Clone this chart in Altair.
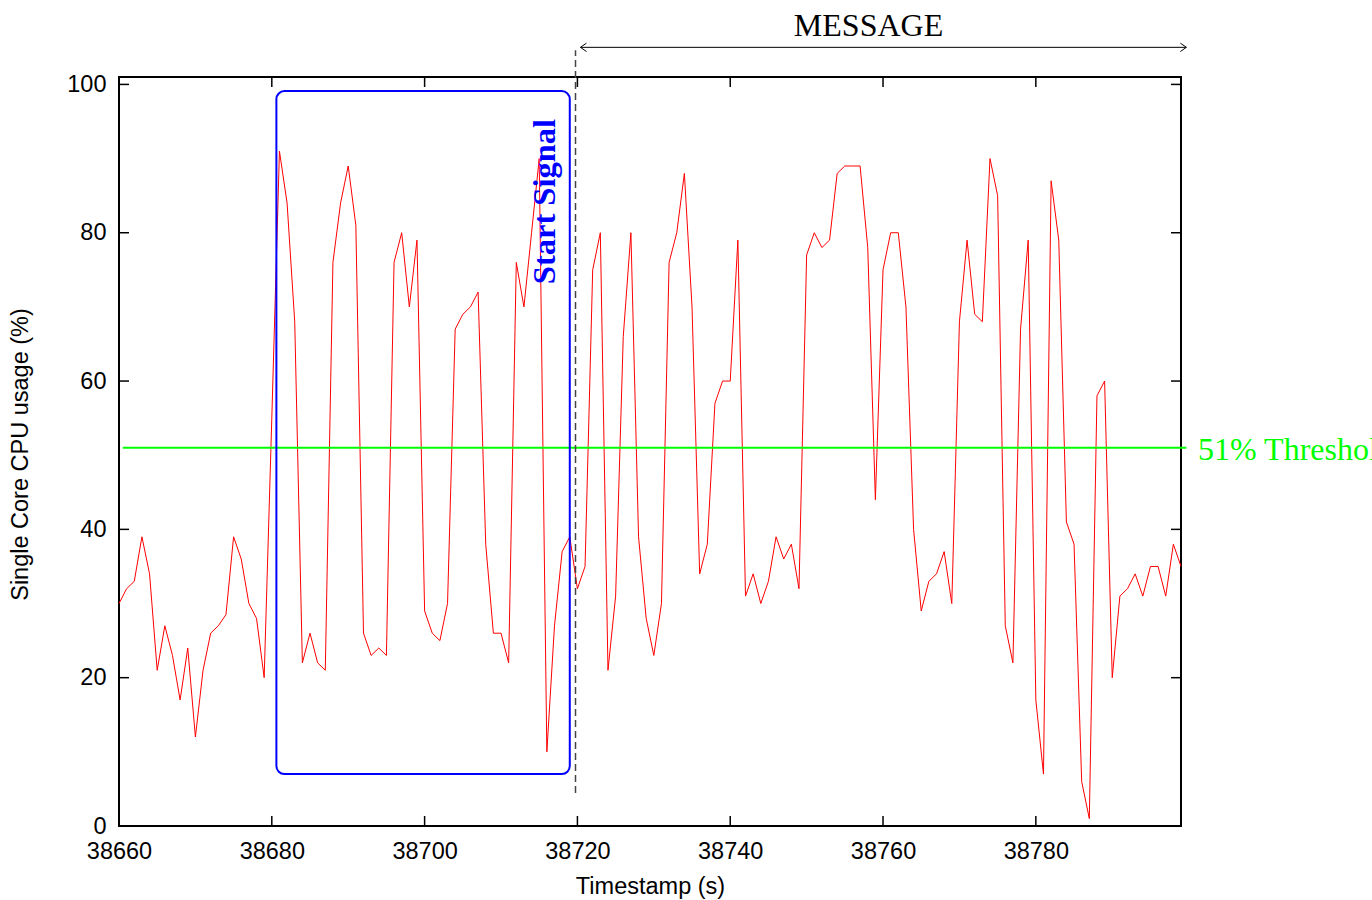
import altair as alt
import pandas as pd

# CPU usage sampled once per second
t_start = 38660
cpu = [
    30, 32, 33, 39, 34, 21, 27, 23, 17, 24,
    12, 21, 26, 27, 28.5, 39, 36, 30, 28, 20,
    55, 91, 84, 68, 22, 26, 22, 21, 76, 84,
    89, 81, 26, 23, 24, 23, 76, 80, 70, 79,
    29, 26, 25, 30, 67, 69, 70, 72, 38, 26,
    26, 22, 76, 70, 80, 90, 10, 27, 37, 39,
    32, 35, 75, 80, 21, 31, 66, 80, 39, 28,
    23, 30, 76, 80, 88, 70, 34, 38, 57, 60,
    60, 79, 31, 34, 30, 33, 39, 36, 38, 32,
    77, 80, 78, 79, 88, 89, 89, 89, 78, 44,
    75, 80, 80, 70, 40, 29, 33, 34, 37, 30,
    68, 79, 69, 68, 90, 85, 27, 22, 67, 79,
    17, 7, 87, 79, 41, 38, 6, 1, 58, 60,
    20, 31, 32, 34, 31, 35, 35, 31, 38, 35,
]
timestamps = [t_start + i for i in range(len(cpu))]

x_ticks = [38660, 38680, 38700, 38720, 38740, 38760, 38780]
y_ticks = [0, 20, 40, 60, 80, 100]

threshold = 51
threshold_text = "51% Threshold"

# start-signal window and message marker
box_t = [38680.6, 38719.0]
box_cpu = [7.0, 99.1]
signal_t = 38719.75
signal_span = [4.45, 104.6]
msg_t = [38720.4, 38799.7]
msg_cpu = 105.0

W, H = 1062, 749
X_DOM = [38660, 38799]
Y_DOM = [0, 101]

SANS = "Liberation Sans"
SERIF = "Liberation Serif"
LABEL_FS = 23.5
TITLE_FS = 23.5


def xe(field="t"):
    return alt.X(
        f"{field}:Q",
        title="Timestamp (s)",
        scale=alt.Scale(domain=X_DOM, nice=False, zero=False),
        axis=alt.Axis(
            values=x_ticks, format="d", domain=False, ticks=False, grid=False,
            labelFlush=False, labelPadding=13, labelFontSize=LABEL_FS,
            labelFont=SANS, labelColor="black",
            titleFontSize=TITLE_FS, titleFont=SANS, titleFontWeight="normal",
            titleColor="black", titleY=60, titleBaseline="middle",
        ),
    )


def ye(field="cpu"):
    return alt.Y(
        f"{field}:Q",
        title="Single Core CPU usage (%)",
        scale=alt.Scale(domain=Y_DOM, nice=False, zero=True),
        axis=alt.Axis(
            values=y_ticks, domain=False, ticks=False, grid=False,
            labelFlush=False, labelPadding=13, labelFontSize=LABEL_FS,
            labelFont=SANS, labelColor="black",
            titleFontSize=TITLE_FS, titleFont=SANS, titleFontWeight="normal",
            titleColor="black", titleX=-99, titleY=377, titleBaseline="middle",
            titleAlign="center",
        ),
    )


usage = pd.DataFrame({"t": timestamps, "cpu": cpu})
line = alt.Chart(usage).mark_line(color="#ff0000", strokeWidth=1).encode(
    x=xe(), y=ye()
)

thr_df = pd.DataFrame({"t": [X_DOM[0] + 0.5], "t2": [X_DOM[1] + 0.7], "cpu": [threshold]})
thr_line = alt.Chart(thr_df).mark_rule(color="#00ff00", strokeWidth=2).encode(
    x=xe(), x2="t2:Q", y=ye()
)
thr_lab_df = pd.DataFrame({"t": [X_DOM[1]], "cpu": [threshold], "label": [threshold_text]})
thr_label = alt.Chart(thr_lab_df).mark_text(
    font=SERIF, fontSize=32, color="#00ff00", align="left", baseline="middle", dx=17, dy=2
).encode(x=xe(), y=ye(), text="label:N")

box_df = pd.DataFrame({"t": [box_t[0]], "t2": [box_t[1]], "cpu": [box_cpu[0]], "cpu2": [box_cpu[1]]})
box = alt.Chart(box_df).mark_rect(
    fillOpacity=0, stroke="#0000ff", strokeWidth=2, cornerRadius=8
).encode(x=xe(), x2="t2:Q", y=ye(), y2="cpu2:Q")

sig_lab_df = pd.DataFrame({"t": [38715.7], "cpu": [84.2], "label": ["Start Signal"]})
sig_label = alt.Chart(sig_lab_df).mark_text(
    font=SERIF, fontSize=32.5, fontWeight="bold", color="#0000ff", angle=270,
    align="center", baseline="middle",
).encode(x=xe(), y=ye(), text="label:N")

sig_df = pd.DataFrame({"t": [signal_t], "cpu": [signal_span[0]], "cpu2": [signal_span[1]]})
sig_rule = alt.Chart(sig_df).mark_rule(
    color="#444444", strokeWidth=1.5, strokeDash=[7, 4]
).encode(x=xe(), y=ye(), y2="cpu2:Q")

arr_df = pd.DataFrame({"t": [msg_t[0]], "t2": [msg_t[1]], "cpu": [msg_cpu]})
arrow = alt.Chart(arr_df).mark_rule(color="black", strokeWidth=1).encode(
    x=xe(), x2="t2:Q", y=ye()
)
head_l = alt.Chart(pd.DataFrame({"t": [msg_t[0]], "cpu": [msg_cpu]})).mark_point(
    shape="M1,-0.7L0,0L1,0.7", filled=False, stroke="black", strokeWidth=1, size=144, opacity=1
).encode(x=xe(), y=ye())
head_r = alt.Chart(pd.DataFrame({"t": [msg_t[1]], "cpu": [msg_cpu]})).mark_point(
    shape="M-1,-0.7L0,0L-1,0.7", filled=False, stroke="black", strokeWidth=1, size=144, opacity=1
).encode(x=xe(), y=ye())

msg_df = pd.DataFrame({"t": [38758.1], "cpu": [107.9], "label": ["MESSAGE"]})
msg_label = alt.Chart(msg_df).mark_text(
    font=SERIF, fontSize=32, color="black", align="center", baseline="middle"
).encode(x=xe(), y=ye(), text="label:N")

# inward tick marks on all four sides
TL = 10
xt = pd.DataFrame({"t": x_ticks})
yt = pd.DataFrame({"cpu": y_ticks})
tick_style = dict(color="black", strokeWidth=1.5)
ticks_bottom = alt.Chart(xt).mark_rule(**tick_style).encode(
    x=xe(), y=alt.value(H), y2=alt.value(H - TL)
)
ticks_top = alt.Chart(xt).mark_rule(**tick_style).encode(
    x=xe(), y=alt.value(0), y2=alt.value(TL)
)
ticks_left = alt.Chart(yt).mark_rule(**tick_style).encode(
    y=ye(), x=alt.value(0), x2=alt.value(TL)
)
ticks_right = alt.Chart(yt).mark_rule(**tick_style).encode(
    y=ye(), x=alt.value(W - TL), x2=alt.value(W)
)

chart = (
    alt.layer(
        line, thr_line, box, sig_rule, thr_label, sig_label,
        arrow, head_l, head_r, msg_label,
        ticks_bottom, ticks_top, ticks_left, ticks_right,
    )
    .properties(
        width=W,
        height=H,
        autosize=alt.AutoSizeParams(type="none"),
        padding={"left": 119, "top": 77, "right": 191, "bottom": 74},
        background="white",
    )
    .configure_view(stroke="black", strokeWidth=2)
)

chart.save("out.html", embed_options={"renderer": "svg", "actions": False})
